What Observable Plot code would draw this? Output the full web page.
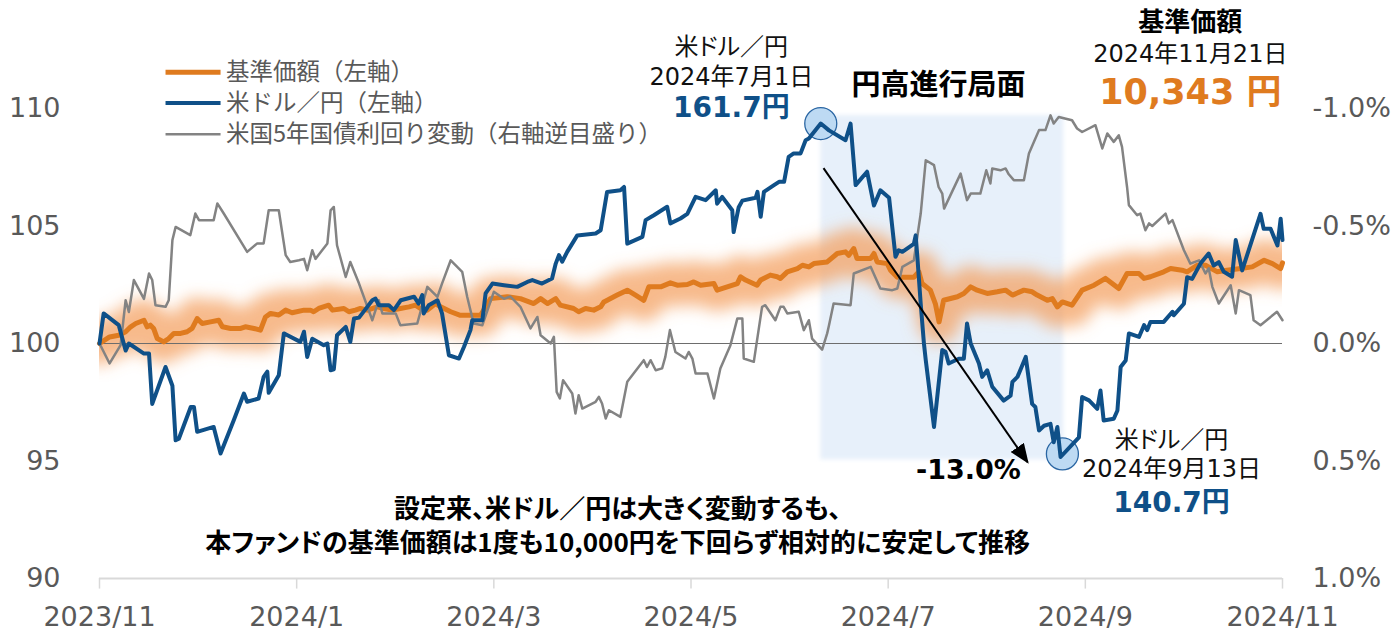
<!DOCTYPE html>
<html><head><meta charset="utf-8">
<script src="https://cdn.jsdelivr.net/npm/d3@7"></script>
<script src="https://cdn.jsdelivr.net/npm/@observablehq/plot@0.6"></script>
<style>
body{margin:0;background:#fff;}
</style></head><body><div id="chart"></div>
<script>
// x = business-day position since launch (0 = 2023/11 launch, 258 = 2024/11/21)
const xTicks = [0, 43, 86, 129, 172, 215, 258];
const xLabels = ["2023/11", "2024/1", "2024/3", "2024/5", "2024/7", "2024/9", "2024/11"];
const leftTicks = [90, 95, 100, 105, 110];
const leftLabels = ["90", "95", "100", "105", "110"];
const rightLabels = ["1.0%", "0.5%", "0.0%", "-0.5%", "-1.0%"];

// USD/JPY indexed (launch = 100), left axis
const usdjpy = [[0,100.0],[0.9,101.28],[4.2,100.78],[5.7,99.7],[6.4,100.0],[9.7,99.57],[10.8,99.57],[11.5,97.43],[14.4,99.0],[15.9,98.2],[16.6,95.88],[17.3,95.95],[19.9,97.3],[20.6,97.3],[21.3,96.24],[24.9,96.45],[26.4,95.32],[29.3,96.74],[31.5,97.87],[32.2,97.52],[34.7,97.66],[35.8,98.58],[36.6,98.8],[36.9,97.9],[39.1,98.65],[40.2,100.43],[40.9,100.36],[43.8,100.07],[44.6,100.5],[45.3,99.43],[46.4,100.2],[48.9,99.93],[49.7,100.0],[50.4,98.86],[51.1,98.9],[51.8,100.35],[53.7,100.71],[54.7,100.07],[55.5,101.06],[56.6,101.1],[58.4,101.56],[59.5,101.84],[60.2,101.91],[60.9,101.63],[63.1,101.63],[64.2,101.42],[65.7,101.84],[68.6,101.99],[69.6,101.7],[70.4,102.06],[70.7,101.28],[71.8,101.63],[73.7,101.84],[74.7,101.28],[76.2,99.5],[78.4,99.36],[79.5,99.86],[80.9,100.57],[81.3,100.99],[83.5,100.99],[84.2,102.13],[85.7,102.55],[88.2,102.48],[91.1,102.41],[93.3,102.62],[94.4,102.7],[96.5,102.55],[98.7,102.77],[99.5,103.4],[100.2,103.76],[100.9,103.48],[102.0,103.9],[104.2,104.6],[108.2,104.68],[109.3,104.82],[110.7,106.45],[113.6,106.52],[114.4,106.66],[115.1,104.25],[118.4,104.54],[119.1,105.25],[120.9,105.46],[123.8,105.82],[124.5,105.11],[126.7,105.32],[128.2,105.52],[130.0,106.24],[132.2,106.1],[134.4,106.52],[134.7,105.95],[135.8,106.24],[138.0,105.67],[138.3,104.74],[139.4,105.8],[140.2,106.08],[143.1,106.2],[143.5,106.45],[144.2,105.39],[144.9,106.45],[147.1,106.74],[148.2,106.88],[149.3,106.88],[150.3,107.94],[151.4,108.09],[152.9,108.09],[154.0,108.65],[154.7,108.72],[157.3,109.36],[159.1,109.07],[162.7,108.65],[163.8,109.36],[164.9,106.74],[167.4,107.31],[168.9,105.87],[170.3,106.52],[172.2,106.2],[173.6,103.69],[174.3,103.97],[175.1,103.9],[177.6,104.24],[178.0,104.6],[178.3,103.86],[179.1,101.69],[179.8,100.0],[180.2,99.29],[182.0,96.45],[183.8,99.72],[184.5,99.65],[185.2,99.15],[187.4,99.35],[188.5,99.35],[189.2,100.85],[190.0,100.0],[191.8,99.15],[192.5,98.58],[193.6,98.86],[194.7,98.16],[197.2,97.57],[198.7,97.78],[199.1,98.37],[200.2,98.58],[202.0,99.43],[203.4,97.43],[204.1,97.3],[204.9,96.3],[206.0,96.5],[207.4,96.58],[208.1,95.8],[208.9,96.45],[209.6,95.17],[213.6,96.01],[214.3,97.72],[215.8,97.58],[217.6,97.22],[218.3,98.0],[219.0,96.72],[221.2,96.8],[222.0,97.15],[222.7,99.0],[223.8,99.28],[224.5,100.43],[226.7,100.28],[227.8,100.78],[228.5,100.57],[229.2,100.92],[232.1,100.92],[234.0,101.35],[234.3,101.2],[236.5,101.69],[237.2,102.82],[238.3,102.75],[240.1,103.4],[241.9,103.83],[243.0,103.32],[244.1,103.46],[245.2,103.05],[247.0,102.84],[247.8,104.4],[249.2,103.11],[253.2,105.52],[253.9,104.88],[255.4,104.88],[256.9,104.17],[257.6,105.31],[258.0,104.4]];

// Fund NAV indexed (10,000 yen = 100), left axis
const nav = [[0,100.0],[2.2,100.28],[4.2,100.35],[5.7,100.5],[6.8,100.71],[7.9,100.85],[9.7,100.99],[10.4,100.71],[11.1,100.78],[11.8,100.64],[12.6,100.21],[14.0,100.07],[15.1,100.21],[16.2,100.43],[17.7,100.43],[19.1,100.5],[20.2,100.64],[21.3,101.06],[22.4,100.85],[24.2,100.92],[26.0,100.99],[26.8,100.71],[28.6,100.64],[30.8,100.64],[31.8,100.71],[33.7,100.64],[35.1,100.57],[36.2,101.13],[37.3,101.28],[39.1,101.21],[40.6,101.42],[42.0,101.31],[44.6,101.42],[46.0,101.42],[46.7,101.35],[47.8,101.49],[50.0,101.63],[50.8,101.42],[53.3,101.49],[54.4,101.35],[55.8,101.42],[56.9,101.49],[58.4,101.42],[60.6,101.56],[62.0,101.49],[63.8,101.42],[65.6,101.49],[67.5,101.56],[68.9,101.63],[70.0,101.49],[71.5,101.42],[73.3,101.7],[74.4,101.56],[76.6,101.35],[78.7,101.2],[79.5,101.2],[83.1,101.2],[85.3,101.91],[88.9,101.99],[91.8,101.91],[94.7,101.7],[96.2,101.91],[97.7,101.7],[99.5,101.91],[100.5,101.63],[103.4,101.49],[104.5,101.35],[106.0,101.49],[107.8,101.42],[109.3,101.56],[110.0,101.77],[112.9,102.06],[115.1,102.27],[116.9,102.06],[118.7,101.84],[119.8,102.41],[122.4,102.41],[124.5,102.58],[126.0,102.48],[128.2,102.51],[129.6,102.62],[131.1,102.48],[134.0,102.55],[134.7,102.27],[136.9,102.41],[139.1,102.55],[139.8,102.84],[140.9,102.7],[143.4,102.48],[144.2,102.7],[146.3,102.91],[147.8,102.84],[148.5,102.77],[150.0,103.05],[152.2,103.19],[153.3,103.33],[154.7,103.26],[155.8,103.4],[158.7,103.47],[160.9,103.83],[162.7,103.9],[163.4,103.75],[164.5,104.04],[165.2,103.62],[168.2,103.62],[168.9,103.83],[169.6,103.47],[171.8,103.4],[172.5,103.12],[174.0,102.82],[177.6,102.82],[178.7,103.05],[179.4,102.55],[181.2,102.27],[182.3,101.69],[183.1,100.92],[184.1,101.84],[187.1,101.99],[188.5,102.13],[190.0,102.41],[191.4,102.27],[193.6,102.13],[195.8,102.2],[197.6,102.27],[199.1,102.06],[201.6,102.27],[203.4,102.2],[204.5,102.06],[206.7,101.84],[207.8,101.91],[208.9,101.56],[210.0,101.77],[212.1,101.63],[214.3,102.27],[216.9,102.48],[219.4,102.77],[222.3,102.34],[224.1,102.98],[226.7,102.98],[227.8,102.77],[229.2,102.84],[232.1,103.05],[233.6,103.19],[236.1,103.12],[237.2,103.05],[239.4,103.33],[241.2,103.33],[243.8,103.05],[245.9,103.12],[248.9,103.19],[251.4,103.26],[254.0,103.54],[255.8,103.4],[257.6,103.19],[258.0,103.43]];

// US 5Y Treasury yield change since launch (%, right axis, inverted)
const yield5y = [[0,0],[2.2,0.085],[4.6,0.007],[5.7,-0.184],[6.4,-0.134],[7.5,-0.27],[9.7,-0.19],[10.8,-0.298],[11.5,-0.27],[12.2,-0.163],[14.4,-0.156],[15.1,-0.184],[15.9,-0.44],[16.6,-0.496],[19.8,-0.461],[20.9,-0.553],[21.7,-0.525],[24.9,-0.525],[25.7,-0.596],[27.1,-0.553],[32.2,-0.39],[34.4,-0.426],[35.8,-0.426],[36.9,-0.567],[39.1,-0.567],[40.6,-0.376],[41.6,-0.347],[43.5,-0.354],[44.6,-0.36],[45.3,-0.312],[46.4,-0.397],[47.1,-0.36],[49.7,-0.426],[50.4,-0.567],[51.1,-0.581],[51.8,-0.418],[53.7,-0.283],[54.7,-0.347],[56.6,-0.255],[59.5,-0.099],[60.9,-0.184],[61.7,-0.128],[64.6,-0.128],[65.6,-0.078],[69.3,-0.085],[71.5,-0.241],[73.7,-0.198],[74.7,-0.255],[76.6,-0.354],[79.1,-0.305],[80.2,-0.198],[81.6,-0.085],[83.5,-0.078],[86.0,-0.22],[88.2,-0.19],[89.6,-0.2],[91.8,-0.156],[94.0,-0.064],[95.5,-0.113],[96.2,-0.035],[98.4,0],[99.1,-0.028],[99.7,0.206],[100.4,0.234],[101.1,0.156],[103.1,0.213],[103.8,0.298],[104.5,0.22],[105.3,0.277],[108.2,0.248],[108.9,0.227],[109.6,0.255],[110.4,0.319],[111.1,0.284],[113.6,0.312],[115.1,0.163],[118.7,0.071],[119.4,0.1],[120.2,0.071],[121.3,0.114],[122.7,0.106],[123.4,0.057],[124.4,-0.057],[125.6,0.036],[127.8,0.064],[128.5,0.036],[129.3,0.064],[130.0,0.128],[132.6,0.128],[134.0,0.234],[135.4,0.106],[137.6,0.007],[139.1,-0.106],[140.2,-0.106],[140.5,0.064],[142.7,0.078],[144.5,-0.156],[145.2,-0.163],[147.4,-0.099],[148.5,-0.156],[149.2,-0.156],[150.0,-0.128],[152.5,-0.135],[153.6,-0.057],[154.7,-0.099],[155.4,-0.021],[157.6,0.026],[158.7,-0.043],[159.1,-0.078],[160.1,-0.17],[163.8,-0.163],[164.5,-0.298],[168.2,-0.326],[170.3,-0.234],[172.9,-0.227],[174.0,-0.234],[175.1,-0.326],[177.6,-0.354],[179.1,-0.553],[180.2,-0.78],[182.0,-0.759],[183.0,-0.666],[183.8,-0.638],[184.2,-0.574],[187.8,-0.723],[189.2,-0.61],[190.0,-0.638],[192.1,-0.638],[193.4,-0.737],[194.3,-0.681],[194.7,-0.745],[196.5,-0.737],[197.6,-0.745],[198.3,-0.72],[199.4,-0.695],[201.6,-0.695],[202.7,-0.809],[203.8,-0.858],[204.9,-0.908],[206.3,-0.908],[207.4,-0.971],[208.1,-0.936],[209.2,-0.964],[212.1,-0.95],[213.2,-0.915],[214.3,-0.9],[217.2,-0.929],[218.7,-0.83],[219.8,-0.894],[221.2,-0.858],[222.3,-0.886],[223.0,-0.837],[224.1,-0.666],[224.5,-0.589],[226.3,-0.546],[227.0,-0.553],[228.1,-0.482],[228.9,-0.511],[229.6,-0.5],[232.5,-0.553],[233.2,-0.511],[234.0,-0.525],[236.5,-0.397],[237.9,-0.34],[239.8,-0.354],[241.2,-0.298],[241.9,-0.32],[242.7,-0.241],[244.1,-0.17],[246.7,-0.248],[247.8,-0.128],[248.5,-0.227],[251.0,-0.206],[251.7,-0.099],[253.2,-0.078],[256.8,-0.135],[258.0,-0.099]];

const legendLabels = ["基準価額（左軸）", "米ドル／円（左軸）", "米国5年国債利回り変動（右軸逆目盛り）"];
const peakTexts = ["米ドル／円", "2024年7月1日", "161.7円"];
const troughTexts = ["米ドル／円", "2024年9月13日", "140.7円"];
const navTexts = ["基準価額", "2024年11月21日", "10,343 円"];
const phaseText = "円高進行局面";
const dropText = "-13.0%";
const messageLines = ["設定来、米ドル／円は大きく変動するも、", "本ファンドの基準価額は1度も10,000円を下回らず相対的に安定して推移"];

// ---- build ----
const fxData = usdjpy.map(([i, v]) => ({i, v}));
const navData = nav.map(([i, v]) => ({i, v}));
const ylData = yield5y.map(([i, r]) => ({i, r}));
const toLeft = r => 100 - 10 * r;

const ORANGE = "#df7b1f", BLUE = "#0f5088", GRAY = "#838383", TXT = "#595959";
const numFont = "'DejaVu Sans','Noto Sans CJK JP',sans-serif";
const jpFont = "'Noto Sans CJK JP',sans-serif";

const peak = {i: 157.3, v: 109.36};
const trough = {i: 210.0, v: 95.3};
const shade = [{x1: 157.3, x2: 210.3, y1: 95.05, y2: 109.7}];
const arrowD = [{x1: 157.9, y1: 107.46, x2: 202.4, y2: 94.95}];

const legend = [
  {t: legendLabels[0], y: 111.54, c: ORANGE, w: 5},
  {t: legendLabels[1], y: 110.23, c: BLUE, w: 4},
  {t: legendLabels[2], y: 108.9, c: GRAY, w: 2.5}
];

const chart = Plot.plot({
  width: 1399, height: 632,
  marginTop: 108, marginBottom: 54, marginLeft: 99, marginRight: 117,
  x: {domain: [0, 258], axis: null},
  y: {domain: [90, 110], axis: null},
  style: {fontFamily: jpFont, color: TXT, background: "#fff", overflow: "visible"},
  marks: [
    Plot.rect(shade, {x1: "x1", x2: "x2", y1: "y1", y2: "y2", fill: "#e7f0fa"}),
    Plot.line(navData, {x: "i", y: "v", stroke: "#f4a05e", strokeWidth: 42, strokeOpacity: 0.72, strokeLinejoin: "round", clip: true}),
    Plot.ruleY([100], {stroke: "#6d6d6d", strokeWidth: 1.2}),
    Plot.ruleY([90], {stroke: "#d9d9d9", strokeWidth: 2}),
    Plot.ruleX(xTicks, {y1: 90, y2: 89.55, stroke: "#d9d9d9", strokeWidth: 1.5}),
    Plot.axisX({ticks: xTicks, tickFormat: d => xLabels[xTicks.indexOf(d)], tickSize: 0, tickPadding: 28, fontSize: 27, fontFamily: numFont, fill: TXT}),
    Plot.axisY({anchor: "left", ticks: leftTicks, tickFormat: d => leftLabels[leftTicks.indexOf(d)], tickSize: 0, tickPadding: 39, fontSize: 27, fontFamily: numFont, fill: TXT}),
    Plot.axisY({anchor: "right", ticks: leftTicks, tickFormat: d => rightLabels[leftTicks.indexOf(d)], tickSize: 0, tickPadding: 30, fontSize: 27, fontFamily: numFont, fill: TXT}),
    Plot.dot([peak, trough], {x: "i", y: "v", r: 16, fill: "#bddaf3", stroke: "#2a66a3", strokeWidth: 1.3}),
    Plot.line(navData, {x: "i", y: "v", stroke: ORANGE, strokeWidth: 5, strokeLinejoin: "round"}),
    Plot.line(ylData, {x: "i", y: d => toLeft(d.r), stroke: GRAY, strokeWidth: 2.5, strokeLinejoin: "round"}),
    Plot.line(fxData, {x: "i", y: "v", stroke: BLUE, strokeWidth: 4, strokeLinejoin: "round"}),
    Plot.link(arrowD, {x1: "x1", y1: "y1", x2: "x2", y2: "y2", stroke: "#000001", strokeWidth: 2}),
    // legend
    Plot.link(legend, {x1: 14.4, x2: 26.4, y1: "y", y2: "y", stroke: "c", strokeWidth: "w"}),
    Plot.text(legend, {x: 27.6, y: "y", text: "t", textAnchor: "start", fontSize: 23.5, fill: TXT}),
    // peak annotation
    Plot.text([peakTexts[0]], {x: 137.8, y: 112.61, text: d => d, fontSize: 24, fill: "#111", fontFamily: numFont, fillOpacity: 0.999}),
    Plot.text([peakTexts[1]], {x: 137.8, y: 111.33, text: d => d, fontSize: 24, fill: "#111", fontFamily: numFont}),
    Plot.text([peakTexts[2]], {x: 137.8, y: 110.01, text: d => d, fontSize: 28, fontWeight: "bold", fill: BLUE, fontFamily: numFont}),
    Plot.text([phaseText], {x: 183.0, y: 110.99, text: d => d, fontSize: 29, fontWeight: "bold", fill: "#000"}),
    Plot.text([navTexts[0]], {x: 237.9, y: 113.67, text: d => d, fontSize: 26, fontWeight: "bold", fill: "#000"}),
    Plot.text([navTexts[1]], {x: 237.9, y: 112.31, text: d => d, fontSize: 24, fill: "#111", fontFamily: numFont}),
    Plot.text([navTexts[2]], {x: 237.9, y: 110.65, text: d => d, fontSize: 35, fontWeight: "bold", fill: ORANGE, fontFamily: numFont}),
    Plot.text([dropText], {x: 189.5, y: 94.61, text: d => d, fontSize: 27, fontWeight: "bold", fill: "#000", fontFamily: numFont}),
    Plot.text([troughTexts[0]], {x: 233.8, y: 95.89, text: d => d, fontSize: 24, fill: "#111", fontFamily: numFont, fillOpacity: 0.999}),
    Plot.text([troughTexts[1]], {x: 233.8, y: 94.65, text: d => d, fontSize: 24, fill: "#111", fontFamily: numFont}),
    Plot.text([troughTexts[2]], {x: 233.8, y: 93.2, text: d => d, fontSize: 28, fontWeight: "bold", fill: BLUE, fontFamily: numFont}),
    Plot.text(messageLines, {x: 113.0, y: (d, k) => [92.95, 91.5][k], text: d => d, fontSize: 26, fontWeight: "bold", fill: "#000001"})
  ]
});

const svg = d3.select(chart);
const defs = svg.insert("defs", ":first-child");
defs.append("filter").attr("id", "glowblur").attr("x", "-10%").attr("y", "-100%").attr("width", "120%").attr("height", "300%")
  .append("feGaussianBlur").attr("stdDeviation", 8);
defs.append("filter").attr("id", "softedge").attr("x", "-5%").attr("y", "-5%").attr("width", "110%").attr("height", "110%")
  .append("feGaussianBlur").attr("stdDeviation", 2);
defs.append("marker").attr("id", "ahead").attr("viewBox", "0 0 20 16").attr("refX", 18).attr("refY", 8)
  .attr("markerWidth", 20).attr("markerHeight", 16).attr("markerUnits", "userSpaceOnUse").attr("orient", "auto")
  .append("path").attr("d", "M0,0L20,8L0,16Z").attr("fill", "#000");
svg.selectAll('g[stroke-width="42"] path').attr("filter", "url(#glowblur)");
svg.selectAll('g[fill="#e7f0fa"] rect').attr("filter", "url(#softedge)");
svg.selectAll('g[stroke="#000001"] path, g[stroke="#000001"] line').attr("marker-end", "url(#ahead)");
// proportional CJK spacing (as in the source's UI font) for the message and the small rate labels
svg.selectAll('g[fill="#000001"], g[fill-opacity="0.999"]').style("font-feature-settings", '"palt"');
document.getElementById("chart").appendChild(chart);
</script></body></html>
